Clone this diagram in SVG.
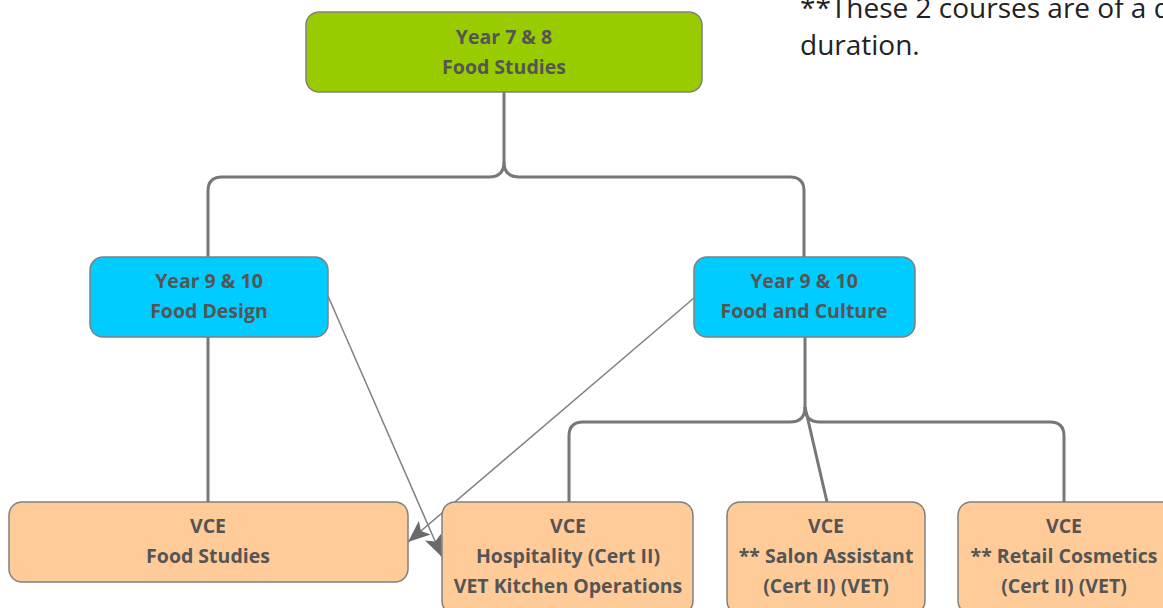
<svg xmlns="http://www.w3.org/2000/svg" width="1163" height="608" viewBox="0 0 1163 608">
<style>
.node rect{stroke:#808080;stroke-width:1.5}
.g rect{fill:#99cc00}
.b rect{fill:#00ccff}
.o rect{fill:#ffcc99}
.node text{font-family:"Open Sans","Noto Sans",sans-serif;font-weight:700;font-size:19.5px;fill:#555555;text-anchor:middle}
.tree{fill:none;stroke:#777777;stroke-width:3}
.thin{fill:none;stroke:#808080;stroke-width:1.5}
.note{font-family:"Open Sans","Noto Sans",sans-serif;font-size:28px;fill:#222222}
</style>
<defs>
<marker id="arr" markerUnits="userSpaceOnUse" markerWidth="24" markerHeight="18" refX="22" refY="9" orient="auto" viewBox="0 0 24 18">
<path d="M0,0 L22,9 L0,18 L5,9 z" fill="#6a6a6a"/>
</marker>
</defs>
<rect width="1163" height="608" fill="#ffffff"/>
<text class="note" x="800" y="18">**These 2 courses are of a different</text>
<text class="note" x="800" y="55">duration.</text>
<g id="connectors">
<path class="tree" d="M504,92 V162 Q504,177 489,177 H222 Q208,177 208,191 V257"/>
<path class="tree" d="M504,162 Q504,177 519,177 H790 Q804,177 804,191 V257"/>
<path class="tree" d="M208,337 V502"/>
<path class="tree" d="M805,337 V407 Q805,422 790,422 H583 Q569,422 569,436 V502"/>
<path class="tree" d="M805,407 Q805,422 820,422 H1050 Q1064,422 1064,436 V502"/>
<path class="tree" d="M805,407 L827,502"/>
<path class="thin" d="M328,296 L442,557" marker-end="url(#arr)"/>
<path class="thin" d="M694,298 L408,542" marker-end="url(#arr)"/>
</g>
<g id="n-y78" class="node g"><rect x="306" y="12" width="396" height="80" rx="13"/><text x="504" y="44">Year 7 &amp; 8</text><text x="504" y="74">Food Studies</text></g>
<g id="n-fd" class="node b"><rect x="90" y="257" width="238" height="80" rx="13"/><text x="209" y="288">Year 9 &amp; 10</text><text x="209" y="318">Food Design</text></g>
<g id="n-fc" class="node b"><rect x="694" y="257" width="221" height="80" rx="13"/><text x="804" y="288">Year 9 &amp; 10</text><text x="804" y="318">Food and Culture</text></g>
<g id="n-vfs" class="node o"><rect x="9" y="502" width="399" height="80" rx="13"/><text x="208" y="533">VCE</text><text x="208" y="563">Food Studies</text></g>
<g id="n-hosp" class="node o"><rect x="442" y="502" width="251" height="112" rx="13"/><text x="568" y="533">VCE</text><text x="568" y="563">Hospitality (Cert II)</text><text x="568" y="593">VET Kitchen Operations</text></g>
<g id="n-salon" class="node o"><rect x="727" y="502" width="198" height="112" rx="13"/><text x="826" y="533">VCE</text><text x="826" y="563">** Salon Assistant</text><text x="826" y="593">(Cert II) (VET)</text></g>
<g id="n-retail" class="node o"><rect x="958" y="502" width="220" height="112" rx="13"/><text x="1064" y="533">VCE</text><text x="1064" y="563">** Retail Cosmetics</text><text x="1064" y="593">(Cert II) (VET)</text></g>
</svg>
